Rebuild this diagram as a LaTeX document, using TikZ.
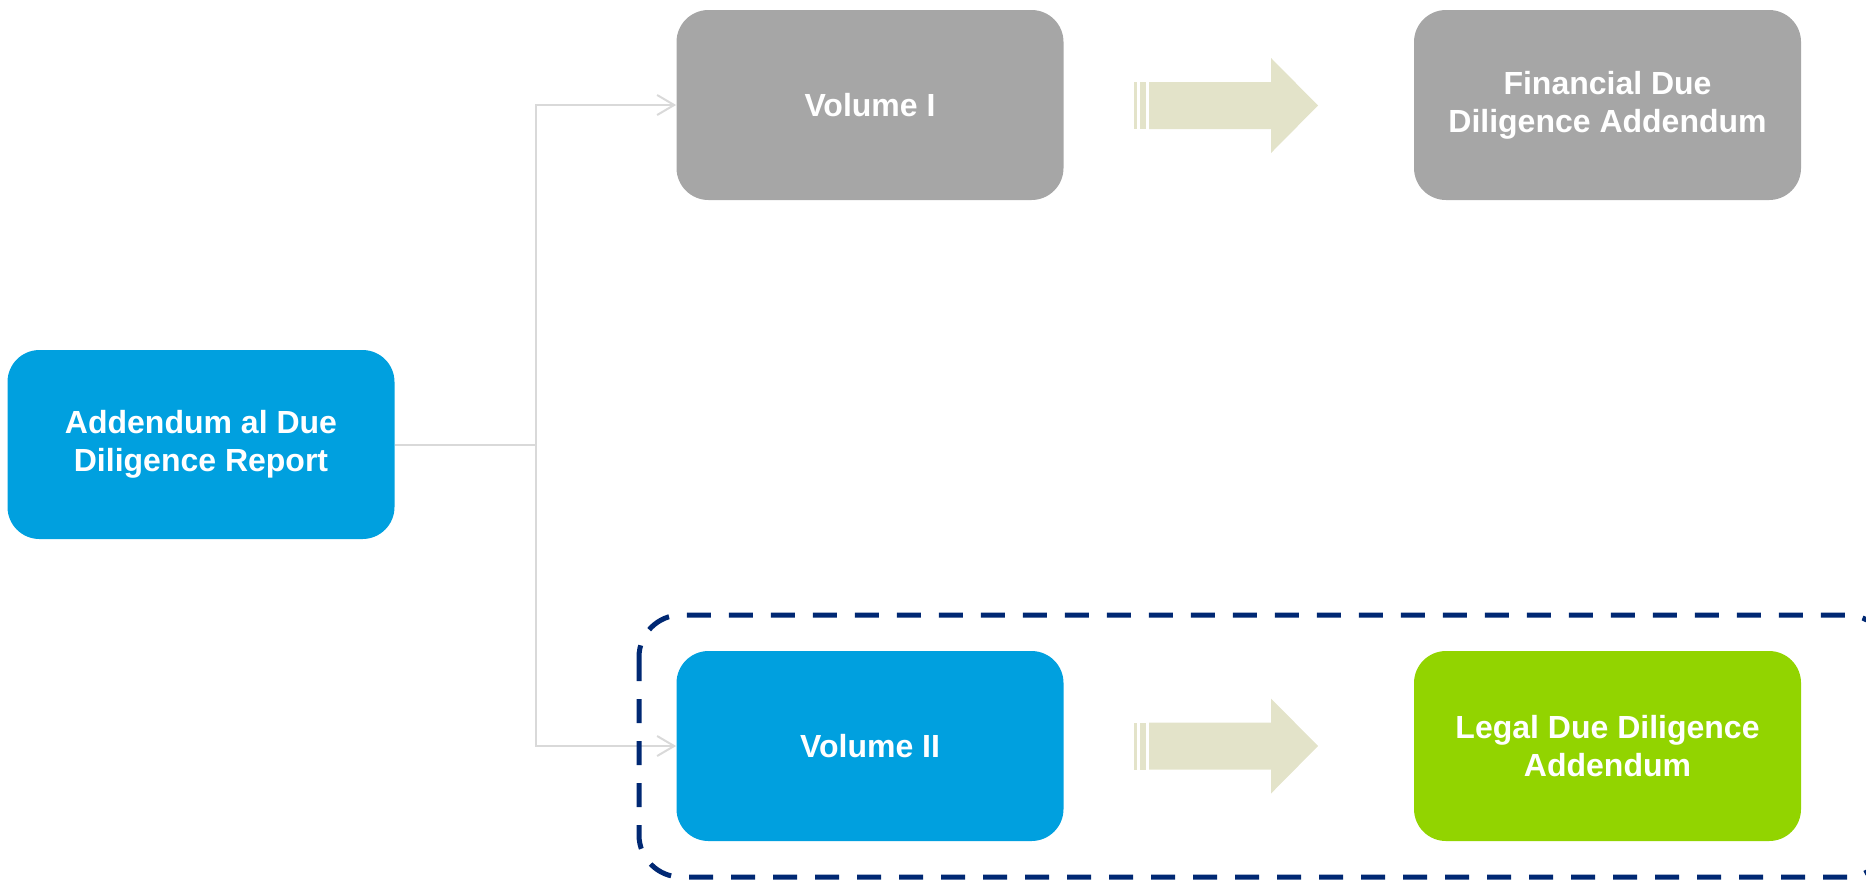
\documentclass[tikz,border=0pt]{standalone}
\usepackage{fontspec}
\setmainfont{Liberation Sans}
\usetikzlibrary{arrows.meta}
\definecolor{boxblue}{RGB}{0,160,223}
\definecolor{boxgray}{RGB}{166,166,166}
\definecolor{boxgreen}{RGB}{146,212,0}
\definecolor{linegray}{RGB}{217,217,217}
\definecolor{arrowbeige}{RGB}{227,227,201}
\definecolor{framenavy}{RGB}{0,40,115}

\begin{document}
\begin{tikzpicture}[x=0.5pt,y=-0.5pt,
  box/.style={rounded corners=16pt,minimum width=193.5pt,minimum height=95pt,
    align=center,text=white,inner sep=0pt,
    font=\fontsize{16}{19}\selectfont\bfseries},
  conn/.style={draw=linegray,line width=1pt},
  frame/.style={draw=framenavy,line width=2.5pt,dash pattern=on 12pt off 9pt,rounded corners=21pt}]
\useasboundingbox (0,0) rectangle (1866,880);
\clip (0,0) rectangle (1866,880);

% boxes
\node[box,fill=boxblue,minimum height=94.5pt] (root) at (201,444.5) {Addendum al Due\\Diligence Report};
\node[box,fill=boxgray] (vol1) at (870,105) {Volume I};
\node[box,fill=boxgray] (fin) at (1607.5,105) {Financial Due\\Diligence Addendum};
\node[box,fill=boxblue] (vol2) at (870,746) {Volume II};
\node[box,fill=boxgreen] (legal) at (1607.5,746) {Legal Due Diligence\\Addendum};

% tree lines
\draw[conn] (root.east) -- (536,444.5) coordinate (split);
\draw[conn,-{Straight Barb[length=8.5pt,width=10pt,line width=1pt]}] (split) |- (vol1.west);
\draw[conn,-{Straight Barb[length=8.5pt,width=10pt,line width=1pt]}] (split) |- (vol2.west);

% block arrows
\foreach \y in {105.5,746} {
  \fill[arrowbeige] (1134,\y-23.5) rectangle (1137,\y+23.5);
  \fill[arrowbeige] (1140,\y-23.5) rectangle (1146,\y+23.5);
  \fill[arrowbeige] (1149,\y-23.5) -- (1271,\y-23.5) -- (1271,\y-47.5)
    -- (1318,\y) -- (1271,\y+47.5) -- (1271,\y+23.5) -- (1149,\y+23.5) -- cycle;
}

% dashed frame round volume II
\draw[frame] (639,615) rectangle (1889,877);

\end{tikzpicture}
\end{document}
